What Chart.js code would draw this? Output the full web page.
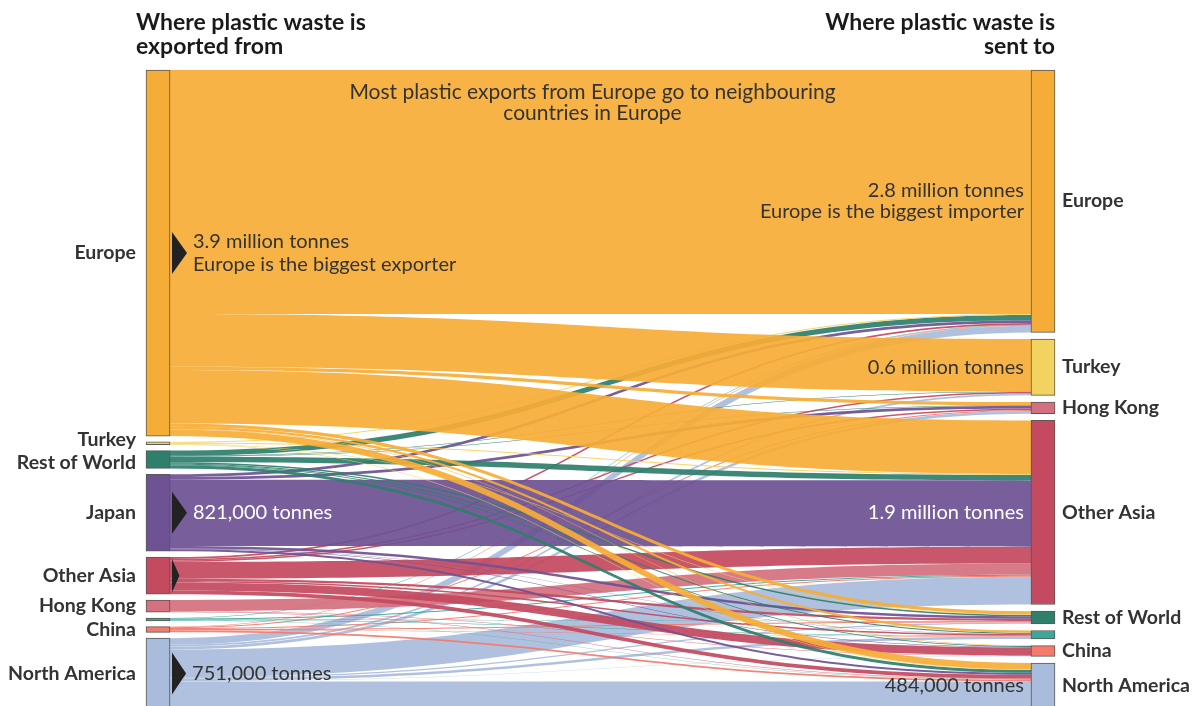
<!DOCTYPE html>
<html>
<head>
<meta charset="utf-8">
<script src="https://cdn.jsdelivr.net/npm/chart.js@4.4.1/dist/chart.umd.min.js"></script>
<style>
  html, body { margin: 0; padding: 0; background: #fff; }
  #wrap { width: 1192px; height: 706px; }
</style>
</head>
<body>
<div id="wrap"><canvas id="plasticChart" width="1192" height="706"></canvas></div>
<script>
// regions, top to bottom on each side
const exporters = ['Europe', 'Turkey', 'Rest of World', 'Japan', 'Other Asia', 'Hong Kong', 'Other', 'China', 'North America'];
const importers = ['Europe', 'Turkey', 'Hong Kong', 'Other Asia', 'Rest of World', 'Other', 'China', 'North America'];
const hiddenLabels = ['Other'];

// thousand tonnes sent by each exporter, in the order of `importers`
const fromEurope       = [2600, 560, 35, 570, 35, 25, 5, 70];
const fromTurkey       = [10, 0, 0, 10, 5, 0, 0, 5];
const fromRestOfWorld  = [55, 5, 5, 60, 15, 10, 10, 30];
const fromJapan        = [30, 0, 30, 705, 25, 5, 5, 21];
const fromOtherAsia    = [20, 15, 15, 180, 25, 15, 85, 40];
const fromHongKong     = [0, 0, 0, 120, 0, 0, 5, 5];
const fromOther        = [5, 0, 0, 10, 5, 5, 0, 5];
const fromChina        = [5, 0, 10, 10, 10, 5, 0, 20];
const fromNorthAmerica = [70, 20, 30, 296, 15, 25, 5, 290];
const flows = [fromEurope, fromTurkey, fromRestOfWorld, fromJapan, fromOtherAsia,
               fromHongKong, fromOther, fromChina, fromNorthAmerica];

// callouts next to the nodes
const exporterNotes = [
  { node: 'Europe', lines: ['3.9 million tonnes', 'Europe is the biggest exporter'], colour: '#333' },
  { node: 'Japan', lines: ['821,000 tonnes'], colour: '#fff' },
  { node: 'Other Asia', lines: [], colour: '#333' },
  { node: 'North America', lines: ['751,000 tonnes'], colour: '#333' }
];
const importerNotes = [
  { node: 'Europe', lines: ['2.8 million tonnes', 'Europe is the biggest importer'], colour: '#333' },
  { node: 'Turkey', lines: ['0.6 million tonnes'], colour: '#333' },
  { node: 'Other Asia', lines: ['1.9 million tonnes'], colour: '#fff' },
  { node: 'North America', lines: ['484,000 tonnes'], colour: '#333' }
];
const topNote = ['Most plastic exports from Europe go to neighbouring', 'countries in Europe'];

const regionColours = {
  'Europe': '#f6ad37',
  'Turkey': '#f3d35f',
  'Rest of World': '#2f7f6d',
  'Japan': '#6f5294',
  'Other Asia': '#c44a60',
  'Hong Kong': '#d47180',
  'Other': '#3aa99b',
  'China': '#f47b6c',
  'North America': '#a9bcdc'
};

const NODE_W = 24;
const NODE_GAP = 62;   // empty space between exporter nodes, thousand tonnes
const Y_MAX = 6775;
const FONT = 'Lato, "Open Sans", sans-serif';

// ---- layout in data units ----
const outTotals = flows.map(row => row.reduce((a, b) => a + b, 0));
const inTotals = importers.map((_, j) => flows.reduce((a, row) => a + row[j], 0));
const rightGap = NODE_GAP * (exporters.length - 1) / (importers.length - 1);

function stack(values, gap) {
  let y = 0;
  return values.map(v => { const r = [y, y + v]; y += v + gap; return r; });
}
const leftNodes = stack(outTotals, NODE_GAP);
const rightNodes = stack(inTotals, rightGap);

// link band positions at both ends
const links = flows.map(row => row.map(() => null));
exporters.forEach((_, i) => {
  let s = leftNodes[i][0];
  importers.forEach((_, j) => {
    const v = flows[i][j];
    if (v > 0) { links[i][j] = { s0: s, s1: s + v }; s += v; }
  });
});
importers.forEach((_, j) => {
  let t = rightNodes[j][0];
  exporters.forEach((_, i) => {
    const v = flows[i][j];
    if (v > 0) { links[i][j].t0 = t; links[i][j].t1 = t + v; t += v; }
  });
});

function rgba(hex, a) {
  const n = parseInt(hex.slice(1), 16);
  return `rgba(${n >> 16},${(n >> 8) & 255},${n & 255},${a})`;
}

const sankeyFlows = {
  id: 'sankeyFlows',
  beforeDatasetsDraw(chart) {
    const { ctx, scales: { x, y } } = chart;
    const xa = x.getPixelForValue(0) + NODE_W / 2;
    const xb = x.getPixelForValue(1) - NODE_W / 2;
    const xm = (xa + xb) / 2;
    ctx.save();
    for (let i = exporters.length - 1; i >= 0; i--) {
      ctx.fillStyle = rgba(regionColours[exporters[i]], 0.93);
      importers.forEach((_, j) => {
        const l = links[i][j];
        if (!l) return;
        const s0 = y.getPixelForValue(l.s0), s1 = y.getPixelForValue(l.s1);
        const t0 = y.getPixelForValue(l.t0), t1 = y.getPixelForValue(l.t1);
        ctx.beginPath();
        ctx.moveTo(xa, s0);
        ctx.bezierCurveTo(xm, s0, xm, t0, xb, t0);
        ctx.lineTo(xb, t1);
        ctx.bezierCurveTo(xm, t1, xm, s1, xa, s1);
        ctx.closePath();
        ctx.fill();
      });
    }
    ctx.restore();
  }
};

function spreadLabels(items, minGap) {
  for (let k = 0; k < 10; k++) {
    for (let n = 1; n < items.length; n++) {
      const a = items[n - 1], b = items[n];
      const d = b.y - a.y;
      if (d < minGap) { a.y -= (minGap - d) / 2; b.y += (minGap - d) / 2; }
    }
  }
  return items;
}

const sankeyText = {
  id: 'sankeyText',
  afterDatasetsDraw(chart) {
    const { ctx, scales: { x, y } } = chart;
    const xl = x.getPixelForValue(0), xr = x.getPixelForValue(1);
    const xa = xl + NODE_W / 2, xb = xr - NODE_W / 2;
    const px = r => y.getPixelForValue(r[1]) - y.getPixelForValue(r[0]);
    const mid = r => (y.getPixelForValue(r[0]) + y.getPixelForValue(r[1])) / 2;
    ctx.save();

    // titles
    ctx.fillStyle = '#1a1a1a';
    ctx.font = `700 23px ${FONT}`;
    ctx.textBaseline = 'middle';
    ctx.textAlign = 'left';
    ctx.fillText('Where plastic waste is', xl - NODE_W / 2 - 10, 23);
    ctx.fillText('exported from', xl - NODE_W / 2 - 10, 47);
    ctx.textAlign = 'right';
    ctx.fillText('Where plastic waste is', xr + NODE_W / 2, 23);
    ctx.fillText('sent to', xr + NODE_W / 2, 47);

    // node labels
    ctx.fillStyle = '#333';
    ctx.font = `700 19.5px ${FONT}`;
    const leftItems = spreadLabels(exporters.map((name, i) => ({ name, y: mid(leftNodes[i]) }))
      .filter(d => !hiddenLabels.includes(d.name)), 23);
    ctx.textAlign = 'right';
    leftItems.forEach(d => ctx.fillText(d.name, xl - NODE_W / 2 - 10, d.y));
    const rightItems = spreadLabels(importers.map((name, j) => ({ name, y: mid(rightNodes[j]) }))
      .filter(d => !hiddenLabels.includes(d.name)), 23);
    ctx.textAlign = 'left';
    rightItems.forEach(d => ctx.fillText(d.name, xr + NODE_W / 2 + 7, d.y));

    // callouts
    ctx.font = `400 20px ${FONT}`;
    exporterNotes.forEach(note => {
      const r = leftNodes[exporters.indexOf(note.node)];
      const cy = mid(r);
      const h = Math.min(42, px(r) - 4);
      const w = Math.min(15, px(r) * 0.2);
      ctx.fillStyle = '#222';
      ctx.beginPath();
      ctx.moveTo(xa + 2, cy - h / 2);
      ctx.lineTo(xa + 2 + w, cy);
      ctx.lineTo(xa + 2, cy + h / 2);
      ctx.closePath();
      ctx.fill();
      ctx.fillStyle = note.colour;
      ctx.textAlign = 'left';
      const y0 = cy - (note.lines.length - 1) * 11.5;
      note.lines.forEach((t, k) => ctx.fillText(t, xa + w + 8, y0 + k * 23));
    });
    importerNotes.forEach(note => {
      const cy = mid(rightNodes[importers.indexOf(note.node)]);
      ctx.fillStyle = note.colour;
      ctx.textAlign = 'right';
      const y0 = cy - (note.lines.length - 1) * 10.5;
      note.lines.forEach((t, k) => ctx.fillText(t, xb - 7, y0 + k * 21));
    });

    ctx.fillStyle = '#333';
    ctx.textAlign = 'center';
    ctx.font = `400 21px ${FONT}`;
    topNote.forEach((t, k) => ctx.fillText(t, (xa + xb) / 2 - 8, chart.chartArea.top + 22 + k * 21));
    ctx.restore();
  }
};

// one floating bar per node
const nodeDatasets = [];
exporters.forEach((name, i) => nodeDatasets.push({
  label: name, data: [leftNodes[i], null], backgroundColor: regionColours[name]
}));
importers.forEach((name, j) => nodeDatasets.push({
  label: name, data: [null, rightNodes[j]], backgroundColor: regionColours[name]
}));
nodeDatasets.forEach(ds => Object.assign(ds, {
  borderColor: 'rgba(50,45,40,0.8)', borderWidth: 1, borderSkipped: false,
  barThickness: NODE_W, grouped: false, clip: false
}));

document.addEventListener('DOMContentLoaded', function () {
  const ctx = document.getElementById('plasticChart').getContext('2d');
  new Chart(ctx, {
    type: 'bar',
    data: { labels: ['from', 'to'], datasets: nodeDatasets },
    options: {
      responsive: false,
      animation: false,
      devicePixelRatio: 1,
      layout: { padding: { left: 158, right: 149, top: 70, bottom: 0 } },
      scales: {
        x: { type: 'category', offset: false, display: false },
        y: { type: 'linear', reverse: true, min: 0, max: Y_MAX, display: false }
      },
      plugins: { legend: { display: false }, tooltip: { enabled: false } }
    },
    plugins: [sankeyFlows, sankeyText]
  });
});
</script>
</body>
</html>
